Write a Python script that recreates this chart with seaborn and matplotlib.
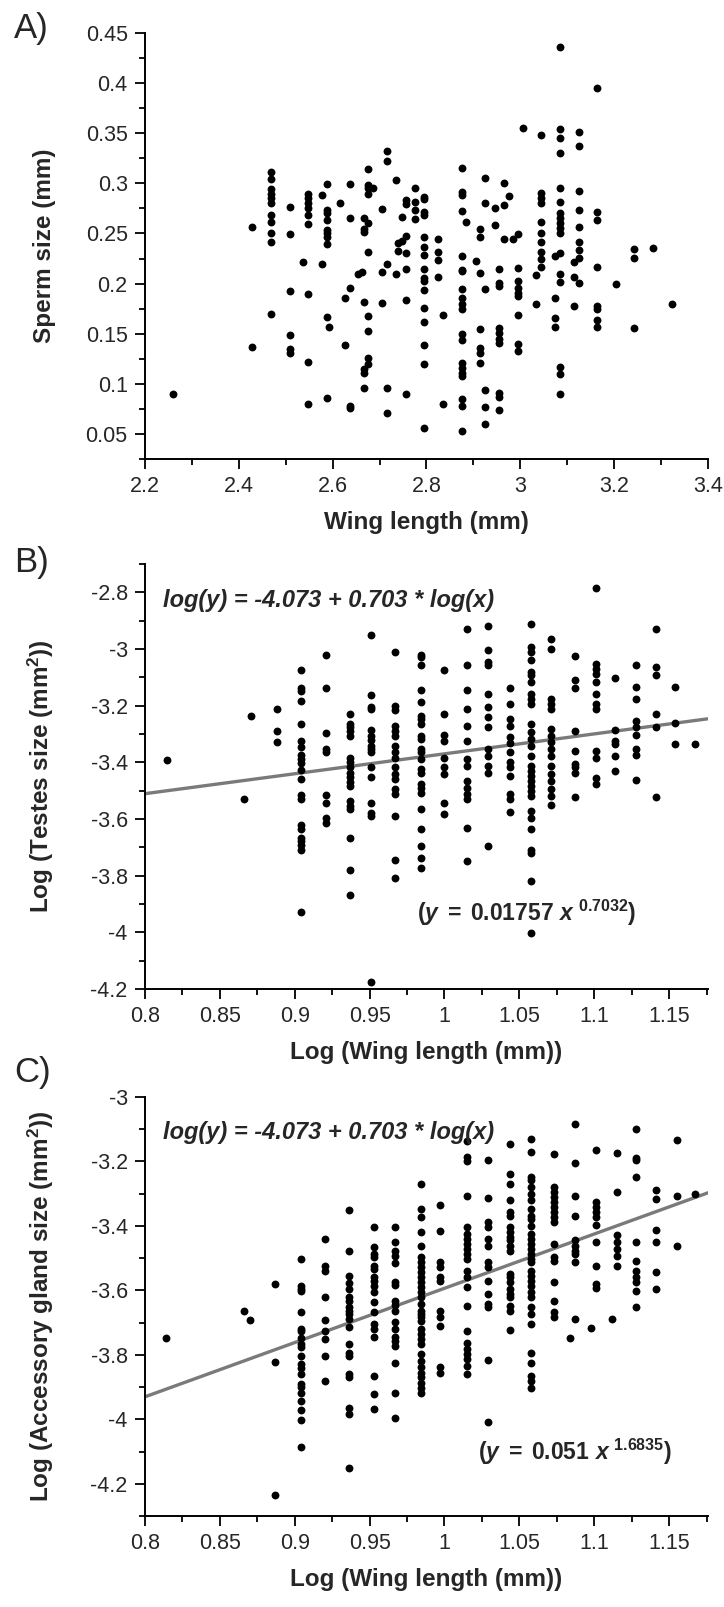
import matplotlib
matplotlib.use("Agg")
import matplotlib.pyplot as plt
from matplotlib.ticker import MultipleLocator, FuncFormatter
import pandas as pd
import seaborn as sns

# A) wing length (mm) columns and sperm size (mm) values in each column
wing_a = [2.259, 2.428, 2.468, 2.508, 2.536, 2.548, 2.577, 2.587, 2.592, 2.616,
          2.627, 2.636, 2.655, 2.663, 2.666, 2.676, 2.687, 2.706, 2.715, 2.736,
          2.740, 2.747, 2.756, 2.776, 2.795, 2.825, 2.836, 2.875, 2.885, 2.906,
          2.915, 2.924, 2.945, 2.954, 2.965, 2.975, 2.985, 2.995, 3.005, 3.034,
          3.045, 3.074, 3.084, 3.115, 3.124, 3.164, 3.204, 3.243, 3.283, 3.324]
sperm_a = [
    [0.090], [0.256, 0.137],
    [0.311, 0.304, 0.294, 0.289, 0.285, 0.280, 0.268, 0.261, 0.250, 0.241, 0.170],
    [0.276, 0.249, 0.193, 0.149, 0.135, 0.131], [0.222],
    [0.289, 0.285, 0.280, 0.275, 0.268, 0.259, 0.190, 0.122, 0.080],
    [0.288, 0.220],
    [0.299, 0.273, 0.270, 0.263, 0.253, 0.250, 0.246, 0.239, 0.167, 0.086],
    [0.157], [0.280], [0.186, 0.139], [0.299, 0.265, 0.196, 0.078, 0.076],
    [0.210], [0.212], [0.265, 0.254, 0.251, 0.182, 0.115, 0.111, 0.096],
    [0.314, 0.298, 0.295, 0.289, 0.260, 0.232, 0.168, 0.153, 0.126, 0.120],
    [0.295], [0.274, 0.212, 0.181], [0.332, 0.322, 0.220, 0.096, 0.071],
    [0.303, 0.210], [0.240, 0.233], [0.266, 0.242],
    [0.283, 0.279, 0.247, 0.231, 0.215, 0.184, 0.090],
    [0.295, 0.281, 0.273, 0.264],
    [0.286, 0.284, 0.271, 0.268, 0.246, 0.237, 0.229, 0.215, 0.206, 0.203, 0.194,
     0.176, 0.162, 0.139, 0.120, 0.056],
    [0.244, 0.232, 0.224, 0.207], [0.169, 0.080],
    [0.315, 0.291, 0.288, 0.272, 0.228, 0.214, 0.213, 0.195, 0.186, 0.180, 0.175,
     0.150, 0.144, 0.121, 0.116, 0.111, 0.108, 0.085, 0.078, 0.053],
    [0.261], [0.223], [0.254, 0.246, 0.211, 0.155, 0.136, 0.131, 0.121],
    [0.305, 0.280, 0.195, 0.094, 0.077, 0.060], [0.275, 0.258],
    [0.215, 0.201, 0.198, 0.156, 0.151, 0.145, 0.141, 0.091, 0.087, 0.074],
    [0.300, 0.278, 0.244], [0.287], [0.244],
    [0.249, 0.216, 0.203, 0.196, 0.191, 0.188, 0.169, 0.140, 0.133],
    [0.355], [0.209, 0.180],
    [0.348, 0.290, 0.285, 0.280, 0.261, 0.250, 0.241, 0.232, 0.225, 0.217],
    [0.228, 0.186, 0.166, 0.157],
    [0.436, 0.354, 0.345, 0.330, 0.295, 0.281, 0.270, 0.265, 0.260, 0.255, 0.250,
     0.231, 0.210, 0.202, 0.117, 0.110, 0.090],
    [0.222, 0.207, 0.178],
    [0.351, 0.337, 0.292, 0.273, 0.256, 0.241, 0.234, 0.226, 0.201],
    [0.395, 0.271, 0.263, 0.217, 0.178, 0.175, 0.164, 0.157],
    [0.200], [0.235, 0.226, 0.156], [0.236], [0.180],
]

# B) log wing length columns and log testes size values
logwing_b = [0.8145, 0.866, 0.871, 0.888, 0.904, 0.921, 0.937, 0.951, 0.967, 0.984,
             1.000, 1.015, 1.029, 1.044, 1.058, 1.071, 1.087, 1.101, 1.114, 1.128,
             1.141, 1.154, 1.167]
testes_b = [
    [-3.391], [-3.530], [-3.237], [-3.211, -3.289, -3.329],
    [-3.073, -3.137, -3.149, -3.182, -3.265, -3.324, -3.347, -3.373, -3.389, -3.403,
     -3.427, -3.460, -3.516, -3.530, -3.622, -3.637, -3.666, -3.678, -3.690, -3.708,
     -3.929],
    [-3.022, -3.138, -3.295, -3.353, -3.365, -3.514, -3.542, -3.598, -3.613],
    [-3.229, -3.265, -3.276, -3.288, -3.306, -3.386, -3.400, -3.418, -3.436, -3.453,
     -3.471, -3.483, -3.536, -3.554, -3.566, -3.666, -3.779, -3.867],
    [-2.951, -3.164, -3.205, -3.211, -3.285, -3.306, -3.320, -3.341, -3.353, -3.365,
     -3.418, -3.453, -3.542, -3.578, -3.590, -4.175],
    [-3.010, -3.200, -3.217, -3.271, -3.288, -3.306, -3.341, -3.365, -3.383, -3.418,
     -3.442, -3.460, -3.495, -3.513, -3.590, -3.743, -3.808],
    [-3.022, -3.028, -3.058, -3.146, -3.188, -3.235, -3.247, -3.265, -3.306, -3.318,
     -3.353, -3.365, -3.389, -3.424, -3.436, -3.477, -3.489, -3.507, -3.566, -3.637,
     -3.696, -3.737, -3.773],
    [-3.073, -3.229, -3.303, -3.324, -3.383, -3.418, -3.442, -3.542, -3.584],
    [-2.930, -3.058, -3.143, -3.211, -3.271, -3.324, -3.389, -3.413, -3.466, -3.489,
     -3.513, -3.530, -3.631, -3.749],
    [-2.919, -3.002, -3.046, -3.058, -3.158, -3.205, -3.241, -3.276, -3.353, -3.377,
     -3.412, -3.436, -3.696],
    [-3.138, -3.194, -3.247, -3.271, -3.312, -3.330, -3.365, -3.400, -3.418, -3.448,
     -3.513, -3.530, -3.577],
    [-2.913, -2.993, -3.010, -3.040, -3.081, -3.093, -3.117, -3.158, -3.176, -3.194,
     -3.265, -3.294, -3.318, -3.341, -3.377, -3.412, -3.430, -3.448, -3.465, -3.483,
     -3.501, -3.519, -3.572, -3.596, -3.637, -3.708, -3.720, -3.820, -4.003],
    [-2.963, -2.999, -3.176, -3.194, -3.211, -3.282, -3.306, -3.329, -3.353, -3.377,
     -3.412, -3.442, -3.465, -3.495, -3.519, -3.552],
    [-3.025, -3.108, -3.138, -3.288, -3.359, -3.406, -3.418, -3.436, -3.521],
    [-2.786, -3.052, -3.070, -3.087, -3.117, -3.158, -3.194, -3.211, -3.359, -3.386,
     -3.457, -3.477],
    [-3.101, -3.285, -3.324, -3.335, -3.379, -3.430],
    [-3.058, -3.134, -3.176, -3.253, -3.276, -3.304, -3.353, -3.374, -3.463],
    [-2.928, -3.063, -3.091, -3.229, -3.276, -3.524],
    [-3.134, -3.261, -3.335], [-3.335],
]

# C) log wing length columns and log accessory gland size values
logwing_c = [0.814, 0.866, 0.870, 0.887, 0.904, 0.920, 0.936, 0.953, 0.967, 0.984,
             0.997, 1.015, 1.029, 1.044, 1.058, 1.073, 1.084, 1.087, 1.098, 1.101,
             1.112, 1.115, 1.128, 1.141, 1.155, 1.167]
gland_c = [
    [-3.748], [-3.665], [-3.692], [-3.580, -3.822, -4.235],
    [-3.502, -3.585, -3.596, -3.603, -3.668, -3.720, -3.725, -3.748, -3.767, -3.777,
     -3.803, -3.829, -3.841, -3.858, -3.891, -3.901, -3.917, -3.943, -3.972, -4.003,
     -4.086],
    [-3.442, -3.523, -3.539, -3.620, -3.692, -3.725, -3.751, -3.803, -3.881],
    [-3.350, -3.479, -3.554, -3.578, -3.596, -3.622, -3.632, -3.653, -3.663, -3.673,
     -3.689, -3.715, -3.767, -3.793, -3.803, -3.860, -3.870, -3.966, -3.984, -4.152],
    [-3.402, -3.464, -3.487, -3.497, -3.523, -3.533, -3.560, -3.570, -3.585, -3.606,
     -3.637, -3.668, -3.704, -3.720, -3.746, -3.865, -3.922, -3.969],
    [-3.404, -3.451, -3.479, -3.492, -3.516, -3.575, -3.582, -3.632, -3.644, -3.663,
     -3.699, -3.720, -3.746, -3.756, -3.772, -3.824, -3.917, -3.997],
    [-3.271, -3.347, -3.373, -3.420, -3.461, -3.497, -3.513, -3.528, -3.544, -3.560,
     -3.575, -3.591, -3.606, -3.622, -3.642, -3.663, -3.673, -3.684, -3.694, -3.720,
     -3.735, -3.751, -3.767, -3.798, -3.818, -3.839, -3.855, -3.870, -3.886, -3.902,
     -3.917],
    [-3.335, -3.417, -3.513, -3.526, -3.560, -3.570, -3.665, -3.682, -3.710, -3.837,
     -3.855],
    [-3.135, -3.187, -3.199, -3.306, -3.404, -3.425, -3.440, -3.456, -3.471, -3.487,
     -3.502, -3.539, -3.560, -3.591, -3.647, -3.725, -3.762, -3.782, -3.798, -3.813,
     -3.834, -3.858],
    [-3.195, -3.313, -3.389, -3.404, -3.440, -3.461, -3.513, -3.528, -3.570, -3.611,
     -3.642, -3.653, -3.816, -4.007],
    [-3.145, -3.238, -3.269, -3.321, -3.357, -3.368, -3.404, -3.420, -3.435, -3.445,
     -3.461, -3.477, -3.549, -3.560, -3.575, -3.596, -3.611, -3.622, -3.647, -3.663,
     -3.723],
    [-3.129, -3.171, -3.249, -3.259, -3.280, -3.300, -3.321, -3.347, -3.368, -3.378,
     -3.399, -3.425, -3.440, -3.456, -3.471, -3.487, -3.502, -3.513, -3.539, -3.554,
     -3.570, -3.585, -3.606, -3.622, -3.653, -3.673, -3.704, -3.793, -3.824, -3.865,
     -3.881, -3.902],
    [-3.178, -3.280, -3.295, -3.311, -3.326, -3.342, -3.357, -3.373, -3.389, -3.456,
     -3.497, -3.508, -3.575, -3.632, -3.668, -3.684],
    [-3.748],
    [-3.083, -3.205, -3.306, -3.368, -3.445, -3.461, -3.477, -3.487, -3.513, -3.689],
    [-3.717],
    [-3.164, -3.326, -3.342, -3.357, -3.373, -3.396, -3.451, -3.523, -3.580, -3.593],
    [-3.689],
    [-3.174, -3.295, -3.427, -3.451, -3.471, -3.492, -3.523],
    [-3.098, -3.188, -3.197, -3.249, -3.451, -3.508, -3.539, -3.560, -3.575, -3.601,
     -3.653],
    [-3.288, -3.316, -3.414, -3.451, -3.544, -3.596],
    [-3.132, -3.306, -3.461], [-3.300],
]

# fitted lines: log(y) = intercept + slope * log(x)
testes_fit = (-4.073, 0.703)
gland_fit = (-5.277, 1.6835)


def columns_to_frame(xs, ys):
    rows = [(x, v) for x, col in zip(xs, ys) for v in col]
    return pd.DataFrame(rows, columns=["x", "y"])


sns.set_style("ticks")
plt.rcParams['font.family'] = ['Liberation Sans', 'DejaVu Sans']
plt.rcParams['axes.unicode_minus'] = False
plt.rcParams['mathtext.fontset'] = 'custom'
plt.rcParams['mathtext.rm'] = 'Liberation Sans:bold'
plt.rcParams['mathtext.bf'] = 'Liberation Sans:bold'
plt.rcParams['mathtext.it'] = 'Liberation Sans:italic:bold'

fig = plt.figure(figsize=(7.24, 16.07), dpi=100)
H = 1607.0
left, width = 145 / 724, 563 / 724
ax_a = fig.add_axes([left, 1 - 459 / H, width, 426 / H])
ax_b = fig.add_axes([left, 1 - 989 / H, width, 425 / H])
ax_c = fig.add_axes([left, 1 - 1516 / H, width, 419 / H])

fmt = FuncFormatter(lambda v, p: f"{v:g}")


def style_axis(ax, xlim, ylim, xmaj, xmin, ymaj, ymin, xlabel, ylabel):
    ax.set_xlim(*xlim)
    ax.set_ylim(*ylim)
    ax.xaxis.set_major_locator(MultipleLocator(xmaj))
    ax.xaxis.set_minor_locator(MultipleLocator(xmin))
    ax.yaxis.set_major_locator(MultipleLocator(ymaj))
    ax.yaxis.set_minor_locator(MultipleLocator(ymin))
    ax.xaxis.set_major_formatter(fmt)
    ax.yaxis.set_major_formatter(fmt)
    ax.tick_params(which='major', length=7.5, width=1.3, labelsize=15.5, pad=5,
                   color='black')
    ax.tick_params(which='minor', length=4.5, width=1.3, color='black')
    for s in ['left', 'bottom']:
        ax.spines[s].set_linewidth(1.4)
        ax.spines[s].set_color('black')
    sns.despine(ax=ax)
    h = ax.get_position().height * H
    ax.set_xlabel(xlabel, fontsize=17.5, fontweight='bold')
    ax.set_ylabel(ylabel, fontsize=17.5, fontweight='bold')
    ax.xaxis.set_label_coords(0.5, -52 / h)
    ax.yaxis.set_label_coords(-0.158, 0.5)


# A
df_a = columns_to_frame(wing_a, sperm_a)
sns.scatterplot(data=df_a, x="x", y="y", ax=ax_a, color='black', s=32, linewidth=0)
style_axis(ax_a, (2.2, 3.4), (0.025, 0.45), 0.2, 0.1, 0.05, 0.025,
           "Wing length (mm)", "Sperm size (mm)")

# B and C
for ax, xs, ys, fit, ylim, ylabel, power_txt, ppos in [
        (ax_b, logwing_b, testes_b, testes_fit, (-4.2, -2.7),
         "Log (Testes size (mm$^{2}$))", r"$(y\;=\;0.01757\ x^{\ 0.7032})$", (0.483, 0.18)),
        (ax_c, logwing_c, gland_c, gland_fit, (-4.3, -3.0),
         "Log (Accessory gland size (mm$^{2}$))", r"$(y\;=\;0.051\ x^{\ 1.6835})$", (0.591, 0.153))]:
    df = columns_to_frame(xs, ys)
    xlim = (0.8, 1.176)
    line = pd.DataFrame({"x": list(xlim)})
    line["y"] = fit[0] + fit[1] * line["x"]
    sns.lineplot(data=line, x="x", y="y", ax=ax, color='#7a7a7a', linewidth=2.4, zorder=1)
    sns.scatterplot(data=df, x="x", y="y", ax=ax, color='black', s=32, linewidth=0, zorder=3)
    style_axis(ax, xlim, ylim, 0.05, 0.025, 0.2, 0.1, "Log (Wing length (mm))", ylabel)
    ax.text(0.032, 0.915, "log(y) = -4.073 + 0.703 * log(x)", transform=ax.transAxes,
            fontsize=17, fontweight='bold', fontstyle='italic', va='center', ha='left')
    ax.text(ppos[0], ppos[1], power_txt, transform=ax.transAxes,
            fontsize=16.5, va='center', ha='left')

for ax, lab, ytop in [(ax_a, "A)", 12), (ax_b, "B)", 546), (ax_c, "C)", 1056)]:
    fig.text(14 / 724, 1 - ytop / H, lab, fontsize=25, va='top', ha='left')

fig.savefig("out.png", dpi=100)
